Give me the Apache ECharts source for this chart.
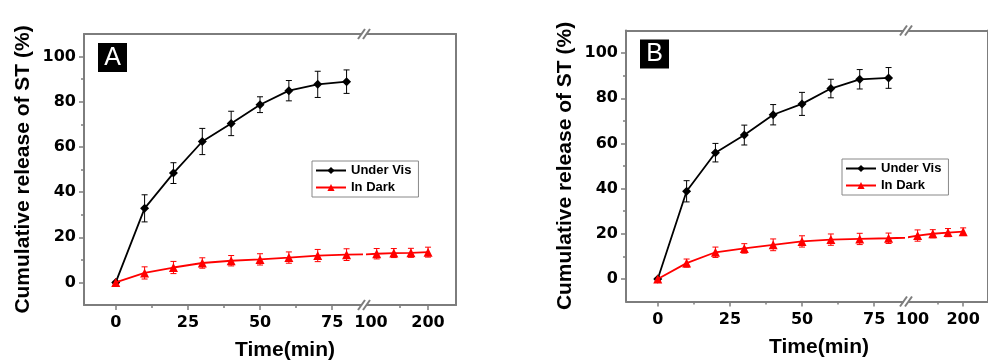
<!DOCTYPE html>
<html>
<head>
<meta charset="utf-8">
<script src="https://cdn.jsdelivr.net/npm/echarts@6/dist/echarts.min.js"></script>
<style>
  html, body { margin: 0; padding: 0; background: #fff; }
  #chart { width: 988px; height: 362px; }
</style>
</head>
<body>
<div id="chart"></div>
<script>
// Release curves, two panels with a broken time axis (0–85 | 93–250)
const TIME = [0, 10, 20, 30, 40, 50, 60, 70, 80];
const TIME_DARK = [0, 10, 20, 30, 40, 50, 60, 70, 80, 110, 140, 170, 200];

const A_VIS = [0, 32.8, 48.4, 62.4, 70.4, 78.7, 84.9, 87.7, 88.9];
const A_VIS_ERR = [0, 6.0, 4.6, 5.8, 5.4, 3.5, 4.5, 5.8, 5.2];
const A_DARK = [0, 4.2, 6.6, 8.6, 9.6, 10.2, 11.0, 11.9, 12.3, 12.7, 13.0, 13.1, 13.4];
const A_DARK_ERR = [0.5, 2.7, 2.7, 2.3, 2.3, 2.5, 2.5, 2.7, 2.6, 2.3, 2.0, 2.0, 2.2];

const B_VIS = [0, 38.8, 55.9, 63.7, 72.7, 77.5, 84.3, 88.4, 89.0];
const B_VIS_ERR = [0, 4.7, 4.1, 4.4, 4.5, 5.1, 4.1, 4.3, 4.6];
const B_DARK = [0, 7.0, 11.8, 13.5, 15.1, 16.6, 17.4, 17.7, 18.0, 19.2, 20.0, 20.5, 20.9];
const B_DARK_ERR = [0.5, 1.8, 2.3, 2.1, 2.6, 2.5, 2.5, 2.5, 2.3, 2.5, 1.8, 1.8, 1.7];

const X_MAJOR = [0, 25, 50, 75];
const X_MINOR = [12.5, 37.5, 62.5];
const XR_LABELS = [100, 200];
const XR_MAJOR = [200];
const XR_MINOR = [150];
const Y_MAJOR = [0, 20, 40, 60, 80, 100];
const Y_MINOR = [10, 30, 50, 70, 90];

const GRAY = '#7d7d7d';
const RED = '#ff0000';
const TICK_FONT = { color: '#000', fontFamily: 'DejaVu Sans', fontWeight: 'bold', fontSize: 16 };

const grids = [], xAxes = [], yAxes = [], series = [], legends = [], graphics = [];

const line = { lineStyle: { color: GRAY, width: 2 }, onZero: false };
const noSplit = { show: false };

function errBars(xi, yi, xs, ys, es, color, keep) {
  return {
    type: 'custom', xAxisIndex: xi, yAxisIndex: yi, silent: true, clip: true, z: 2,
    data: xs.map((x, i) => [x, ys[i] - es[i], ys[i] + es[i]]).filter((d) => keep(d[0])),
    encode: { x: 0, y: [1, 2] },
    renderItem(params, api) {
      const lo = api.coord([api.value(0), api.value(1)]);
      const hi = api.coord([api.value(0), api.value(2)]);
      const w = 3;
      const style = { stroke: color, lineWidth: 1 };
      return {
        type: 'group',
        children: [
          { type: 'line', shape: { x1: lo[0], y1: lo[1], x2: hi[0], y2: hi[1] }, style },
          { type: 'line', shape: { x1: lo[0] - w, y1: lo[1], x2: lo[0] + w, y2: lo[1] }, style },
          { type: 'line', shape: { x1: hi[0] - w, y1: hi[1], x2: hi[0] + w, y2: hi[1] }, style },
        ],
      };
    },
  };
}

function addPanel(letter, dx, dy, vis, visErr, dark, darkErr, legendPos, titleX) {
  const gL = grids.length, gR = gL + 1;
  grids.push({ left: 84 + dx, top: 34 + dy, width: 277, height: 271 });
  grids.push({ left: 367 + dx, top: 34 + dy, width: 89, height: 271 });

  // left segment x axes: labelled bottom, minor ticks, top frame line
  const xL = xAxes.length;
  const xlr = { type: 'value', gridIndex: gL, min: -11, max: 85, splitLine: noSplit };
  xAxes.push({ ...xlr, position: 'bottom', axisLine: line,
    axisTick: { customValues: X_MAJOR, length: 5, lineStyle: { color: GRAY, width: 1.5 } },
    axisLabel: { customValues: X_MAJOR, margin: 10, ...TICK_FONT } });
  xAxes.push({ ...xlr, position: 'bottom', axisLine: { show: false, onZero: false },
    axisTick: { customValues: X_MINOR, length: 3, lineStyle: { color: GRAY, width: 1.5 } },
    axisLabel: { show: false } });
  xAxes.push({ ...xlr, position: 'top', axisLine: line, axisTick: { show: false }, axisLabel: { show: false } });

  // right segment x axes
  const xR = xAxes.length;
  const xrr = { type: 'value', gridIndex: gR, min: 93, max: 249, splitLine: noSplit };
  xAxes.push({ ...xrr, position: 'bottom', axisLine: line,
    axisTick: { customValues: XR_MAJOR, length: 5, lineStyle: { color: GRAY, width: 1.5 } },
    axisLabel: { customValues: XR_LABELS, margin: 10, ...TICK_FONT } });
  xAxes.push({ ...xrr, position: 'bottom', axisLine: { show: false, onZero: false },
    axisTick: { customValues: XR_MINOR, length: 3, lineStyle: { color: GRAY, width: 1.5 } },
    axisLabel: { show: false } });
  xAxes.push({ ...xrr, position: 'top', axisLine: line, axisTick: { show: false }, axisLabel: { show: false } });

  // y axes
  const yL = yAxes.length;
  const yr = { type: 'value', min: -10, max: 110, splitLine: noSplit };
  yAxes.push({ ...yr, gridIndex: gL, position: 'left', axisLine: line,
    axisTick: { customValues: Y_MAJOR, length: 5, lineStyle: { color: GRAY, width: 1.5 } },
    axisLabel: { customValues: Y_MAJOR, margin: 8, ...TICK_FONT },
    name: 'Cumulative release of ST (%)', nameLocation: 'middle', nameGap: 50,
    nameTextStyle: { color: '#000', fontFamily: 'Liberation Sans', fontWeight: 'bold', fontSize: 21 } });
  yAxes.push({ ...yr, gridIndex: gL, position: 'left', axisLine: { show: false, onZero: false },
    axisTick: { customValues: Y_MINOR, length: 3, lineStyle: { color: GRAY, width: 1.5 } },
    axisLabel: { show: false } });
  const yR = yAxes.length;
  yAxes.push({ ...yr, gridIndex: gR, position: 'right', axisLine: line,
    axisTick: { show: false }, axisLabel: { show: false } });

  const visData = TIME.map((t, i) => [t, vis[i]]);
  const darkData = TIME_DARK.map((t, i) => [t, dark[i]]);
  const visStyle = { type: 'line', name: 'Under Vis', symbol: 'diamond', symbolSize: 9,
    lineStyle: { color: '#000', width: 1.8 }, itemStyle: { color: '#000' }, z: 3, clip: true };
  const darkStyle = { type: 'line', name: 'In Dark', symbol: 'triangle', symbolSize: 9,
    lineStyle: { color: RED, width: 1.8 }, itemStyle: { color: RED }, z: 4, clip: true };

  series.push({ ...visStyle, xAxisIndex: xL, yAxisIndex: yL, data: visData });
  series.push({ ...darkStyle, xAxisIndex: xL, yAxisIndex: yL, data: darkData });
  series.push({ ...darkStyle, xAxisIndex: xR, yAxisIndex: yR, data: darkData });

  const inL = (x) => x <= 85, inR = (x) => x >= 93;
  series.push(errBars(xL, yL, TIME, vis, visErr, '#000', inL));
  series.push(errBars(xL, yL, TIME_DARK, dark, darkErr, RED, inL));
  series.push(errBars(xR, yR, TIME_DARK, dark, darkErr, RED, inR));

  legends.push({
    left: legendPos[0], top: legendPos[1], orient: 'vertical',
    data: ['Under Vis', 'In Dark'], selectedMode: false,
    itemWidth: 30, itemHeight: 9, itemGap: 4, padding: [3, 7, 3, 3],
    borderColor: '#888', borderWidth: 1, backgroundColor: '#fff',
    textStyle: { color: '#000', fontFamily: 'Liberation Sans', fontWeight: 'bold', fontSize: 13 },
  });

  // panel letter
  graphics.push({ type: 'rect', x: 98 + dx, y: 43 + dy, shape: { width: 29, height: 29 }, style: { fill: '#000' } });
  graphics.push({ type: 'text', x: 112.5 + dx, y: 58 + dy,
    style: { text: letter, fill: '#fff', font: '25px "Liberation Sans"', textAlign: 'center', textVerticalAlign: 'middle' } });

  // x title
  graphics.push({ type: 'text', x: titleX, y: 340 + dy,
    style: { text: 'Time(min)', fill: '#000', font: 'bold 21px "Liberation Sans"', textAlign: 'center', textVerticalAlign: 'top' } });

  // axis break marks "//" on top and bottom frame
  [34 + dy, 305 + dy].forEach((y) => {
    [361.5 + dx, 366.5 + dx].forEach((x) => {
      graphics.push({ type: 'line', shape: { x1: x - 3.5, y1: y + 5, x2: x + 3.5, y2: y - 5 },
        style: { stroke: GRAY, lineWidth: 2 } });
    });
  });
}

addPanel('A', 0, 0, A_VIS, A_VIS_ERR, A_DARK, A_DARK_ERR, [312, 161], 285);
addPanel('B', 542, -3.5, B_VIS, B_VIS_ERR, B_DARK, B_DARK_ERR, [842, 159], 819);

const chart = echarts.init(document.getElementById('chart'), null, { renderer: 'canvas' });
chart.setOption({
  animation: false,
  backgroundColor: '#fff',
  grid: grids,
  xAxis: xAxes,
  yAxis: yAxes,
  legend: legends,
  series,
  graphic: { elements: graphics },
});
</script>
</body>
</html>
